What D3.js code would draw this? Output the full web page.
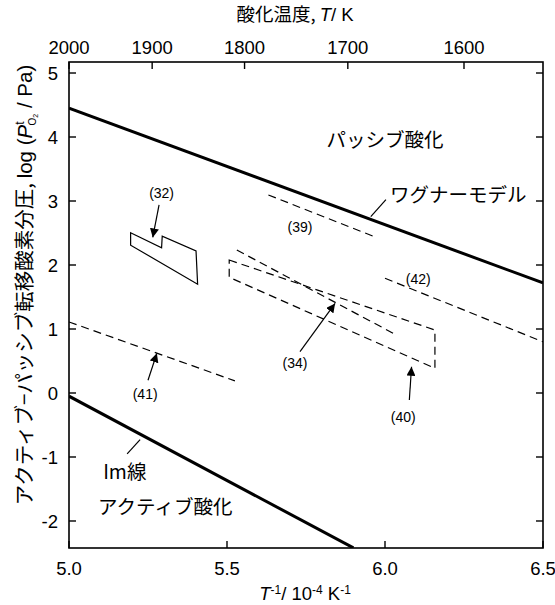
<!DOCTYPE html>
<html lang="ja">
<head>
<meta charset="UTF-8">
<script src="https://cdnjs.cloudflare.com/ajax/libs/d3/7.8.5/d3.min.js"></script>
<style>
  body { margin: 0; background: #fff; }
  svg { display: block; }
  text { font-family: "Liberation Sans", Arial, "Noto Sans CJK JP", sans-serif; fill: #000; }
  .jp { font-family: "Noto Sans CJK JP", "Liberation Sans", sans-serif; }
  .frame { fill: none; stroke: #000; stroke-width: 1.6px; }
  .tick { stroke: #000; stroke-width: 1.4px; }
  .thick { fill: none; stroke: #000; stroke-width: 3px; }
  .dash { fill: none; stroke: #000; stroke-width: 1.2px; stroke-dasharray: 8,5; }
  .solid { fill: none; stroke: #000; stroke-width: 1.2px; }
  .lead { fill: none; stroke: #000; stroke-width: 1.2px; }
</style>
</head>
<body>
<div id="chart"></div>
<script>
// axis ticks
var xTicks = [5.0, 5.5, 6.0, 6.5];
var yTicks = [-2, -1, 0, 1, 2, 3, 4, 5];
var tempTicks = [2000, 1900, 1800, 1700, 1600];

// thick model lines
var wagnerLine = [[5.0, 4.45], [6.5, 1.72]];
var imLine = [[5.0, -0.05], [5.9, -2.42]];

// literature data
var ref32 = [[5.195, 2.505], [5.293, 2.27], [5.295, 2.45], [5.402, 2.22], [5.407, 1.70], [5.195, 2.31]];
var ref39 = [[5.631, 3.094], [5.961, 2.453]];
var ref34 = [[5.531, 2.234], [6.026, 0.933]];
var ref40 = [[5.507, 2.078], [6.158, 0.984], [6.158, 0.386], [5.507, 1.808]];
var ref41 = [[5.0, 1.11], [5.525, 0.19]];
var ref42 = [[6.0, 1.792], [6.5, 0.80]];

// arrows: [from, to]
var arrows = [
  [[5.285, 2.94], [5.265, 2.43]],
  [[5.25, 0.20], [5.278, 0.62]],
  [[5.731, 0.645], [5.842, 1.40]],
  [[6.077, -0.11], [6.084, 0.41]]
];
var leaders = [
  [[5.955, 2.755], [6.003, 3.02]],
  [[5.184, -0.95], [5.225, -0.73]]
];

var refLabels = [
  {t: "(32)", x: 5.293, y: 3.13},
  {t: "(39)", x: 5.731, y: 2.60},
  {t: "(42)", x: 6.105, y: 1.78},
  {t: "(34)", x: 5.715, y: 0.47},
  {t: "(41)", x: 5.241, y: -0.016},
  {t: "(40)", x: 6.058, y: -0.37}
];
var jpLabels = [
  {t: "パッシブ酸化", x: 5.815, y: 3.95},
  {t: "ワグナーモデル", x: 6.016, y: 3.09},
  {t: "Im線", x: 5.108, y: -1.23},
  {t: "アクティブ酸化", x: 5.092, y: -1.78}
];

var width = 555, height = 605;
var plotL = 69, plotR = 543, plotT = 62, plotB = 548;

var svg = d3.select("#chart").append("svg")
    .attr("width", width)
    .attr("height", height);

var x = d3.scaleLinear().domain([5.0, 6.5]).range([plotL, plotR]);
var y = d3.scaleLinear().domain([-2.422, 5.172]).range([plotB, plotT]);

var defs = svg.append("defs");
defs.append("marker")
    .attr("id", "head")
    .attr("viewBox", "0 0 10 10")
    .attr("refX", 10).attr("refY", 5)
    .attr("markerWidth", 9).attr("markerHeight", 9)
    .attr("markerUnits", "userSpaceOnUse")
    .attr("orient", "auto")
  .append("path")
    .attr("d", "M0,0L10,5L0,10Z")
    .attr("fill", "#000");

defs.append("clipPath").attr("id", "plot")
  .append("rect").attr("x", plotL).attr("y", plotT)
    .attr("width", plotR - plotL).attr("height", plotB - plotT);

var line = d3.line()
    .x(function(d) { return x(d[0]); })
    .y(function(d) { return y(d[1]); });
var polyLine = d3.line()
    .x(function(d) { return x(d[0]); })
    .y(function(d) { return y(d[1]); })
    .curve(d3.curveLinearClosed);

var g = svg.append("g").attr("clip-path", "url(#plot)");

g.append("path").datum(wagnerLine).attr("class", "thick").attr("d", line);
g.append("path").datum(imLine).attr("class", "thick").attr("d", line);

g.append("path").datum(ref32).attr("class", "solid").attr("d", polyLine);
g.append("path").datum(ref40).attr("class", "dash").attr("d", polyLine);

[ref39, ref34, ref41, ref42].forEach(function(s) {
  g.append("path").datum(s).attr("class", "dash").attr("d", line);
});

g.selectAll(".arrow")
    .data(arrows)
    .enter()
    .append("path")
    .attr("class", "lead arrow")
    .attr("d", line)
    .attr("marker-end", "url(#head)");

g.selectAll(".leader")
    .data(leaders)
    .enter()
    .append("path")
    .attr("class", "lead leader")
    .attr("d", line);

svg.selectAll(".reflabel")
    .data(refLabels)
    .enter()
    .append("text")
    .attr("class", "reflabel")
    .attr("x", function(d) { return x(d.x); })
    .attr("y", function(d) { return y(d.y); })
    .attr("dy", "0.35em")
    .attr("text-anchor", "middle")
    .style("font-size", "14px")
    .text(function(d) { return d.t; });

svg.selectAll(".jplabel")
    .data(jpLabels)
    .enter()
    .append("text")
    .attr("class", "jp jplabel")
    .attr("x", function(d) { return x(d.x); })
    .attr("y", function(d) { return y(d.y); })
    .attr("dy", "0.35em")
    .style("font-size", "19.5px")
    .text(function(d) { return d.t; });

// frame
svg.append("rect").attr("class", "frame")
    .attr("x", plotL).attr("y", plotT)
    .attr("width", plotR - plotL).attr("height", plotB - plotT);

var tl = 7;
// bottom ticks + labels
xTicks.forEach(function(v) {
  svg.append("line").attr("class", "tick")
      .attr("x1", x(v)).attr("x2", x(v))
      .attr("y1", plotB).attr("y2", plotB - tl);
  svg.append("text")
      .attr("x", x(v)).attr("y", 575)
      .attr("text-anchor", "middle")
      .style("font-size", "18.5px")
      .text(d3.format(".1f")(v));
});

// top ticks (1e4 / T)
tempTicks.forEach(function(t) {
  var v = 1e4 / t;
  svg.append("line").attr("class", "tick")
      .attr("x1", x(v)).attr("x2", x(v))
      .attr("y1", plotT).attr("y2", plotT + tl);
  svg.append("text")
      .attr("x", x(v)).attr("y", 54)
      .attr("text-anchor", "middle")
      .style("font-size", "18.5px")
      .text(t);
});

// left/right ticks
yTicks.forEach(function(v) {
  svg.append("line").attr("class", "tick")
      .attr("x1", plotL).attr("x2", plotL + tl)
      .attr("y1", y(v)).attr("y2", y(v));
  svg.append("line").attr("class", "tick")
      .attr("x1", plotR).attr("x2", plotR - tl)
      .attr("y1", y(v)).attr("y2", y(v));
  svg.append("text")
      .attr("x", 58).attr("y", y(v))
      .attr("dy", "0.36em")
      .attr("text-anchor", "end")
      .style("font-size", "18.5px")
      .text(v);
});

// top title
var tt = svg.append("text")
    .attr("x", 295).attr("y", 21)
    .attr("text-anchor", "middle")
    .style("font-size", "18.5px");
tt.append("tspan").attr("class", "jp").text("酸化温度, ");
tt.append("tspan").style("font-style", "italic").text("T");
tt.append("tspan").text("/ K");

// bottom title
var bt = svg.append("text")
    .attr("x", 305).attr("y", 600)
    .attr("text-anchor", "middle")
    .style("font-size", "18.5px");
bt.append("tspan").style("font-style", "italic").text("T");
bt.append("tspan").attr("dy", -6).style("font-size", "12px").text("-1");
bt.append("tspan").attr("dy", 6).text("/ 10");
bt.append("tspan").attr("dy", -6).style("font-size", "12px").text("-4");
bt.append("tspan").attr("dy", 6).text(" K");
bt.append("tspan").attr("dy", -6).style("font-size", "12px").text("-1");

// y title
var yt = svg.append("text")
    .attr("transform", "translate(32,285) rotate(-90)")
    .attr("text-anchor", "middle")
    .style("font-size", "20.5px");
yt.append("tspan").attr("class", "jp").text("アクティブ−パッシブ転移酸素分圧, ");
yt.append("tspan").text("log (");
yt.append("tspan").style("font-style", "italic").text("P");
yt.append("tspan").attr("dy", -8).style("font-size", "12px").text("t");
yt.append("tspan").attr("dx", -4).attr("dy", 12).style("font-size", "10px").text("O");
yt.append("tspan").attr("dy", 2).style("font-size", "7px").text("2");
yt.append("tspan").attr("dy", -6).text(" / Pa)");
</script>
</body>
</html>
